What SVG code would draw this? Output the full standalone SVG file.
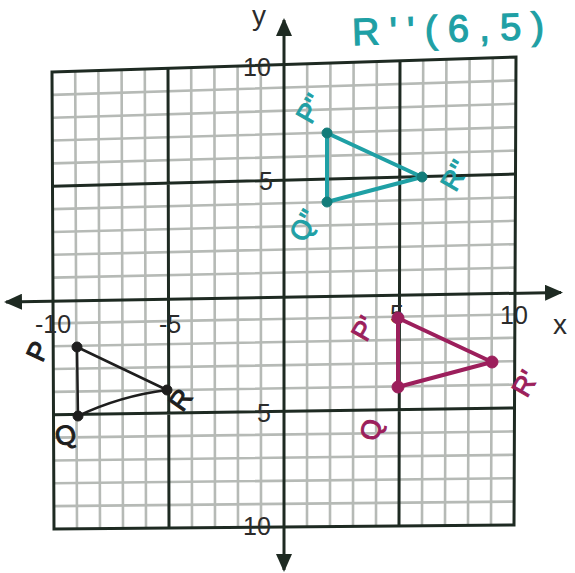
<svg xmlns="http://www.w3.org/2000/svg" width="575" height="573" viewBox="0 0 575 573">
<style>
.minor{fill:none;stroke:#b6bab6;stroke-width:2.6}
.major{fill:none;stroke:#1e2a22;stroke-width:3}
.axis{fill:none;stroke:#1e2a22;stroke-width:3}
.tick{font-family:"Liberation Sans",Arial,sans-serif;font-size:25px;fill:#2b2b2b;text-anchor:middle}
.axlab{font-family:"Liberation Sans",Arial,sans-serif;font-size:28px;fill:#2b2b2b;text-anchor:middle}
.lab{font-family:"Liberation Sans",Arial,sans-serif;font-size:27px;text-anchor:middle;stroke-width:1}
.blk{fill:#1e1e1e;stroke:#1e1e1e}
.mag{fill:#9c1f5c;stroke:#9c1f5c}
.teal{fill:#1fa0a5;stroke:#1fa0a5}
.dotT{fill:#137c7a;stroke:#137c7a}
.edgeB{fill:none;stroke:#1e1e1e;stroke-width:2.5;stroke-linecap:round}
.edgeM{fill:none;stroke:#9c1f5c;stroke-width:4;stroke-linecap:round}
.edgeT{fill:none;stroke:#1fa0a5;stroke-width:4;stroke-linecap:round}
</style>
<defs>
<marker id="arr" viewBox="0 0 18 16" refX="16" refY="8" markerWidth="18" markerHeight="16" markerUnits="userSpaceOnUse" orient="auto-start-reverse">
<path d="M0,0 L18,8 L0,16 z" fill="#1e2a22"/>
</marker>
</defs>
<rect width="575" height="573" fill="#ffffff"/>
<g id="grid">
<path class="minor" d="M75.2 71.25L77 528.8M98.4 70.5L100 528.6M121.6 69.75L123 528.4M144.8 69L146 528.2M191.2 67.5L192 527.8M214.4 66.75L215 527.6M237.6 66L238 527.4M260.8 65.25L261 527.2M307.2 63.75L307 526.8M330.4 63L330 526.6M353.6 62.25L353 526.4M376.8 61.5L376 526.2M423.2 60L422 525.8M446.4 59.25L445 525.6M469.6 58.5L468 525.4M492.8 57.75L491 525.2"/>
<path class="minor" d="M52.1 94.85L515.9 80.4M52.2 117.7L515.8 103.8M52.3 140.55L515.7 127.2M52.4 163.4L515.6 150.6M52.6 209.1L515.4 197.4M52.7 231.95L515.3 220.8M52.8 254.8L515.2 244.2M52.9 277.65L515.1 267.6M53.1 323.35L514.9 314.4M53.2 346.2L514.8 337.8M53.3 369.05L514.7 361.2M53.4 391.9L514.6 384.6M53.6 437.6L514.4 431.4M53.7 460.45L514.3 454.8M53.8 483.3L514.2 478.2M53.9 506.15L514.1 501.6"/>
<path class="major" d="M52 72L516 57L514 525L54 529Z"/>
<path class="major" d="M168 68.25L169 528M400 60.75L399 526M52.5 186.25L515.5 174M53.5 414.75L514.5 408"/>
</g>
<g id="axes">
<path class="axis" d="M6 302L561 292.5" marker-start="url(#arr)" marker-end="url(#arr)"/>
<path class="axis" d="M284 570L284 20" marker-start="url(#arr)" marker-end="url(#arr)"/>
<text class="axlab" x="259" y="25">y</text>
<text class="axlab" x="560" y="334">x</text>
<text class="tick" x="257" y="76">10</text>
<text class="tick" x="266" y="190">5</text>
<text class="tick" x="264" y="422">5</text>
<text class="tick" x="257" y="535">10</text>
<text class="tick" x="53" y="333">-10</text>
<text class="tick" x="170" y="333">-5</text>
<text class="tick" x="397" y="323">5</text>
<text class="tick" x="514" y="324">10</text>
</g>
<g id="connectors">
<path class="edgeB" d="M77 347L167 390M77 347L78 416M78 416Q120 396 167 390"/>
<path class="edgeM" d="M398 318L492 362M398 318L398 387M398 387L492 362"/>
<path class="edgeT" d="M327 133L422 177M327 133L327 202M327 202L422 177"/>
</g>
<g id="triangle-PQR">
<circle class="blk" cx="77" cy="347" r="5"/>
<circle class="blk" cx="78" cy="416" r="5"/>
<circle class="blk" cx="167" cy="390" r="5"/>
<text class="lab blk" transform="translate(46,355) rotate(-65)">P</text>
<text class="lab blk" transform="translate(68,444) rotate(-15)">Q</text>
<text class="lab blk" transform="translate(188,405) rotate(-55)">R</text>
</g>
<g id="triangle-P1Q1R1">
<circle class="mag" cx="398" cy="318" r="6"/>
<circle class="mag" cx="398" cy="387" r="6"/>
<circle class="mag" cx="492" cy="362" r="6"/>
<text class="lab mag" transform="translate(372,333) rotate(-60)">P'</text>
<text class="lab mag" transform="translate(380,432) rotate(-75)">Q</text>
<text class="lab mag" transform="translate(533,388) rotate(-60)">R'</text>
</g>
<g id="triangle-P2Q2R2">
<circle class="dotT" cx="327" cy="133" r="5"/>
<circle class="dotT" cx="327" cy="202" r="5"/>
<circle class="dotT" cx="422" cy="177" r="5"/>
<text class="lab teal" transform="translate(318,113) rotate(-60)">P''</text>
<text class="lab teal" transform="translate(312,230) rotate(-60)">Q''</text>
<text class="lab teal" transform="translate(463,180) rotate(-60)">R''</text>
</g>
<g id="title">
<text x="352" y="42" transform="rotate(-2 448 28)" textLength="192" lengthAdjust="spacing" style="font-family:'Liberation Sans',Arial,sans-serif;font-size:38px;fill:#1fa0a5;stroke:#1fa0a5;stroke-width:1.2">R''(6,5)</text>
</g>
</svg>
